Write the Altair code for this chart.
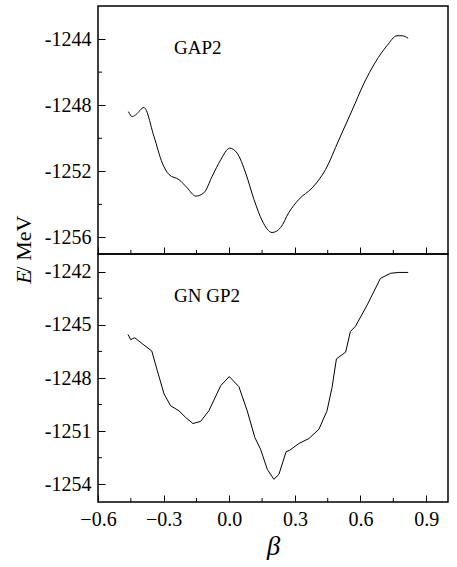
import altair as alt
import pandas as pd

# ---- data ----
beta_top = [-0.461, -0.443, -0.425, -0.390, -0.344, -0.306, -0.275, -0.230, -0.192, -0.153,
            -0.116, -0.078, -0.039, 0.002, 0.036, 0.075, 0.113, 0.151, 0.196, 0.235,
            0.272, 0.318, 0.379, 0.440, 0.501, 0.562, 0.615, 0.668, 0.721, 0.767, 0.790, 0.818]
E_top = [-1248.39, -1248.69, -1248.55, -1248.14, -1249.9, -1251.5, -1252.2, -1252.5, -1253.0, -1253.5,
         -1253.3, -1252.3, -1251.3, -1250.6, -1250.9, -1252.1, -1253.7, -1255.0, -1255.7, -1255.4,
         -1254.5, -1253.7, -1253.0, -1251.9, -1250.1, -1248.3, -1246.7, -1245.4, -1244.4, -1243.8, -1243.8, -1243.95]

beta_bot = [-0.463, -0.450, -0.443, -0.432, -0.397, -0.354, -0.329, -0.298, -0.268, -0.230,
            -0.199, -0.166, -0.131, -0.093, -0.039, 0.0, 0.044, 0.082, 0.117, 0.143,
            0.174, 0.204, 0.227, 0.260, 0.276, 0.318, 0.364, 0.410, 0.447, 0.470,
            0.490, 0.532, 0.554, 0.577, 0.630, 0.691, 0.737, 0.775, 0.818]
E_bot = [-1245.54, -1245.84, -1245.78, -1245.73, -1246.07, -1246.48, -1247.58, -1248.9, -1249.57, -1249.85,
         -1250.23, -1250.57, -1250.45, -1249.85, -1248.43, -1247.92, -1248.49, -1249.85, -1251.36, -1252.02,
         -1253.16, -1253.72, -1253.44, -1252.16, -1252.08, -1251.7, -1251.42, -1250.89, -1249.85, -1248.53,
         -1246.92, -1246.54, -1245.37, -1245.08, -1243.89, -1242.38, -1242.09, -1242.04, -1242.04]

x_major = [-0.6, -0.3, 0.0, 0.3, 0.6, 0.9]
x_minor = [-0.45, -0.15, 0.15, 0.45, 0.75]
y_top_major = [-1256, -1252, -1248, -1244]
y_top_minor = [-1254, -1250, -1246]
y_bot_major = [-1254, -1251, -1248, -1245, -1242]
y_bot_minor = [-1252.5, -1249.5, -1246.5, -1243.5]

label_top = "GAP2"
label_bot = "GN GP2"

FONT = "Liberation Serif"
W, H = 350, 248


def panel(beta, E, ydom, ymaj, ymin, label, bottom, interp):
    xscale = alt.Scale(domain=[-0.6, 1.0], nice=False, zero=False)
    yscale = alt.Scale(domain=ydom, nice=False, zero=False)
    if bottom:
        xaxis = alt.Axis(values=x_major, format=".1f", tickSize=7, offset=-7, domain=False,
                         ticks=True, tickColor="black", tickWidth=1, labelFont=FONT,
                         labelFontSize=20, labelColor="black", labelPadding=7,
                         labelFlush=False, labelOverlap=False,
                         title="β", titleFont=FONT, titleFontStyle="italic",
                         titleFontWeight="normal", titleFontSize=27, titleColor="black",
                         titlePadding=4, grid=False)
    else:
        xaxis = alt.Axis(values=x_major, tickSize=7, offset=-7, domain=False, ticks=True,
                         tickColor="black", tickWidth=1, labels=False, title=None, grid=False)
    yaxis = alt.Axis(values=ymaj, tickSize=7, offset=-7, domain=False, ticks=True,
                     tickColor="black", tickWidth=1, labelFont=FONT, labelFontSize=20,
                     labelColor="black", labelPadding=7, labelExpr="'-' + abs(datum.value)",
                     labelFlush=False, labelOverlap=False, title=None, grid=False)

    df = pd.DataFrame({"beta": beta, "E": E})
    line = alt.Chart(df).mark_line(color="black", strokeWidth=1, interpolate=interp).encode(
        x=alt.X("beta:Q", scale=xscale, axis=xaxis),
        y=alt.Y("E:Q", scale=yscale, axis=yaxis),
    )
    ymin_rules = alt.Chart(pd.DataFrame({"E": ymin})).mark_rule(color="black", strokeWidth=1).encode(
        y=alt.Y("E:Q", scale=yscale, axis=yaxis), x=alt.value(0), x2=alt.value(4)
    )
    xmin_rules = alt.Chart(pd.DataFrame({"beta": x_minor})).mark_rule(color="black", strokeWidth=1).encode(
        x=alt.X("beta:Q", scale=xscale, axis=xaxis), y=alt.value(H), y2=alt.value(H - 4)
    )
    txt = alt.Chart(pd.DataFrame({"t": [label]})).mark_text(
        font=FONT, fontSize=19, align="left", baseline="middle", color="black"
    ).encode(text="t:N", x=alt.value(76), y=alt.value(42))
    layers = [line, ymin_rules, xmin_rules, txt]
    if bottom:
        e_txt = alt.Chart(pd.DataFrame({"t": ["E"]})).mark_text(
            font=FONT, fontSize=22, fontStyle="italic", angle=270, align="center",
            baseline="middle", color="black"
        ).encode(text="t:N", x=alt.value(-74), y=alt.value(23))
        u_txt = alt.Chart(pd.DataFrame({"t": ["/ MeV"]})).mark_text(
            font=FONT, fontSize=22, angle=270, align="center", baseline="middle", color="black"
        ).encode(text="t:N", x=alt.value(-74), y=alt.value(-10))
        layers += [e_txt, u_txt]
    return alt.layer(*layers).properties(width=W, height=H)


top = panel(beta_top, E_top, [-1257, -1242], y_top_major, y_top_minor, label_top, False, "monotone")
bot = panel(beta_bot, E_bot, [-1255, -1241], y_bot_major, y_bot_minor, label_bot, True, "linear")

chart = (
    alt.vconcat(top, bot, spacing=0, bounds="flush")
    .resolve_scale(y="independent")
    .properties(padding={"left": 12, "top": 5, "right": 0, "bottom": 0}, background="white")
    .configure_view(stroke="black", strokeWidth=1.5)
)

chart.save("out.html", embed_options={"renderer": "svg", "actions": False})
